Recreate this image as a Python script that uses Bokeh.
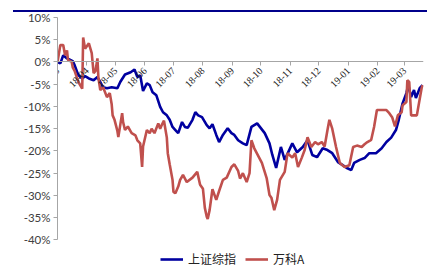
import math
from datetime import datetime
import pandas as pd
from bokeh.plotting import figure
from bokeh.models import (FixedTicker, DatetimeTickFormatter, PrintfTickFormatter,
                          Legend, LegendItem, Range1d, Div, ColumnDataSource)
from bokeh.layouts import column
from bokeh.embed import file_html
from bokeh.resources import INLINE

# 上证综指 (cumulative return, %)
sh_dates = ["2018-03-01", "2018-03-04", "2018-03-07", "2018-03-11", "2018-03-14", "2018-03-17",
            "2018-03-19", "2018-03-23", "2018-03-27", "2018-03-30", "2018-04-03", "2018-04-08",
            "2018-04-12", "2018-04-15", "2018-04-18", "2018-04-22", "2018-04-27", "2018-05-03",
            "2018-05-06", "2018-05-11", "2018-05-17", "2018-05-21", "2018-05-24", "2018-05-27",
            "2018-05-30", "2018-06-03", "2018-06-06", "2018-06-09", "2018-06-13", "2018-06-17",
            "2018-06-20", "2018-06-24", "2018-06-27", "2018-06-30", "2018-07-03", "2018-07-06",
            "2018-07-10", "2018-07-13", "2018-07-16", "2018-07-21", "2018-07-24", "2018-07-27",
            "2018-07-31", "2018-08-05", "2018-08-08", "2018-08-11", "2018-08-15", "2018-08-18",
            "2018-08-22", "2018-08-27", "2018-08-31", "2018-09-03", "2018-09-07", "2018-09-12",
            "2018-09-16", "2018-09-21", "2018-09-27", "2018-10-05", "2018-10-10", "2018-10-13",
            "2018-10-17", "2018-10-22", "2018-10-26", "2018-11-03", "2018-11-08", "2018-11-14",
            "2018-11-19", "2018-11-24", "2018-11-29", "2018-12-05", "2018-12-10", "2018-12-15",
            "2018-12-21", "2018-12-26", "2018-12-31", "2019-01-04", "2019-01-07", "2019-01-13",
            "2019-01-18", "2019-01-23", "2019-01-30", "2019-02-05", "2019-02-10", "2019-02-15",
            "2019-02-20", "2019-02-23", "2019-02-27", "2019-03-03", "2019-03-05", "2019-03-08",
            "2019-03-11", "2019-03-13", "2019-03-17", "2019-03-20"]
sh_values = [0.0, -0.3, 1.5, 0.8, 0.5, 0.2,
             -0.7, -3.0, -3.7, -3.2, -3.7, -4.1,
             -3.4, -4.5, -5.7, -5.9, -5.7, -5.9,
             -4.5, -2.8, -2.3, -1.7, -3.4, -3.0,
             -6.5, -4.8, -5.2, -6.8, -7.5, -10.1,
             -11.3, -12.0, -13.0, -14.6, -15.3, -16.0,
             -13.5, -14.6, -14.8, -13.0, -11.3, -12.0,
             -12.4, -14.2, -14.9, -14.0, -16.4, -18.0,
             -16.4, -14.9, -16.0, -16.4, -17.6, -18.3,
             -18.7, -14.6, -13.8, -16.0, -18.3, -20.9,
             -23.8, -19.1, -22.0, -18.3, -20.3, -19.1,
             -17.6, -20.9, -21.4, -19.4, -19.8, -20.5,
             -22.5, -23.2, -23.9, -24.3, -22.7, -22.0,
             -21.6, -20.5, -20.5, -19.4, -18.0, -17.0,
             -15.3, -13.0, -9.3, -7.0, -5.2, -7.9,
             -6.3, -8.1, -5.9, -5.2]

# 万科A (cumulative return, %)
vk_dates = ["2018-03-01", "2018-03-04", "2018-03-07", "2018-03-09", "2018-03-11", "2018-03-12",
            "2018-03-16", "2018-03-17", "2018-03-19", "2018-03-23", "2018-03-27", "2018-03-28",
            "2018-03-30", "2018-04-03", "2018-04-06", "2018-04-08", "2018-04-10", "2018-04-12",
            "2018-04-13", "2018-04-15", "2018-04-18", "2018-04-22", "2018-04-25", "2018-04-27",
            "2018-04-28", "2018-04-30", "2018-05-03", "2018-05-04", "2018-05-08", "2018-05-09",
            "2018-05-11", "2018-05-14", "2018-05-18", "2018-05-22", "2018-05-24", "2018-05-27",
            "2018-05-29", "2018-05-30", "2018-06-03", "2018-06-06", "2018-06-08", "2018-06-11",
            "2018-06-15", "2018-06-17", "2018-06-19", "2018-06-21", "2018-06-24", "2018-06-25",
            "2018-06-27", "2018-06-30", "2018-07-01", "2018-07-03", "2018-07-06", "2018-07-08",
            "2018-07-11", "2018-07-15", "2018-07-21", "2018-07-26", "2018-07-29", "2018-08-01",
            "2018-08-03", "2018-08-05", "2018-08-06", "2018-08-08", "2018-08-11", "2018-08-15",
            "2018-08-18", "2018-08-22", "2018-08-26", "2018-08-31", "2018-09-03", "2018-09-07",
            "2018-09-09", "2018-09-12", "2018-09-16", "2018-09-19", "2018-09-21", "2018-09-24",
            "2018-10-02", "2018-10-07", "2018-10-10", "2018-10-12", "2018-10-15", "2018-10-18",
            "2018-10-21", "2018-10-26", "2018-10-29", "2018-11-03", "2018-11-06", "2018-11-09",
            "2018-11-13", "2018-11-16", "2018-11-19", "2018-11-23", "2018-11-27", "2018-11-30",
            "2018-12-04", "2018-12-07", "2018-12-10", "2018-12-12", "2018-12-15", "2018-12-19",
            "2018-12-23", "2018-12-28", "2019-01-02", "2019-01-06", "2019-01-10", "2019-01-15",
            "2019-01-18", "2019-01-21", "2019-01-25", "2019-01-28", "2019-01-31", "2019-02-10",
            "2019-02-13", "2019-02-16", "2019-02-19", "2019-02-22", "2019-02-26", "2019-02-27",
            "2019-03-03", "2019-03-04", "2019-03-06", "2019-03-08", "2019-03-11", "2019-03-14",
            "2019-03-19", "2019-03-20"]
vk_values = [0.0, 3.8, 3.8, 1.5, 2.6, 0.5,
             0.0, -1.2, -2.0, -4.5, -6.0, 5.5,
             3.0, 4.2, 2.0, -2.5, -2.0, 0.8,
             -3.5, -6.3, -5.7, -7.9, -7.0, -9.5,
             -12.0, -13.0, -15.5, -16.9, -11.5, -13.5,
             -15.3, -14.5, -16.0, -16.5, -17.6, -18.3,
             -23.6, -19.0, -15.3, -16.0, -15.0, -16.0,
             -13.8, -15.0, -14.0, -13.2, -17.0, -20.5,
             -23.0, -26.5, -29.2, -29.5, -28.0, -26.5,
             -25.4, -27.0, -26.0, -24.7, -27.6, -28.5,
             -32.8, -34.8, -35.3, -33.3, -28.6, -31.0,
             -29.0, -26.5, -26.0, -23.6, -23.0, -24.5,
             -26.2, -25.0, -27.0, -25.0, -17.6, -19.4,
             -22.7, -26.1, -29.9, -30.5, -33.3, -31.0,
             -26.5, -24.7, -20.5, -21.5, -20.5, -23.6,
             -21.5, -19.8, -16.9, -19.1, -18.0, -18.5,
             -18.0, -19.0, -15.3, -13.0, -15.0, -19.1,
             -22.7, -23.6, -23.2, -19.1, -18.8, -19.1,
             -18.5, -18.0, -17.5, -14.6, -10.8, -10.8,
             -11.5, -12.4, -14.5, -12.0, -11.3, -9.7,
             -9.0, -4.1, -4.5, -12.0, -12.0, -12.0,
             -5.9, -5.2]

series_names = ["上证综指", "万科A"]
month_ticks = ["2018-03-01", "2018-04-01", "2018-05-01", "2018-06-01", "2018-07-01",
               "2018-08-01", "2018-09-01", "2018-10-01", "2018-11-01", "2018-12-01",
               "2019-01-01", "2019-02-01", "2019-03-01"]
y_ticks = [10, 5, 0, -5, -10, -15, -20, -25, -30, -35, -40]

BLUE = "#0000A0"
RED = "#C0504D"
GREY = "#A6A6A6"

sh_src = ColumnDataSource(dict(x=pd.to_datetime(sh_dates), y=sh_values))
vk_src = ColumnDataSource(dict(x=pd.to_datetime(vk_dates), y=vk_values))

# frame extends below -40% so the legend can sit inside it; the y axis line stops at -40%
p = figure(width=427, height=263, output_backend="svg", toolbar_location=None,
           x_axis_type="datetime",
           x_range=Range1d(datetime(2018, 3, 1), datetime(2019, 3, 21)),
           y_range=Range1d(-46.2, 10),
           min_border_left=57, min_border_right=4, min_border_top=13, min_border_bottom=0)
p.outline_line_color = None
p.grid.visible = False
p.background_fill_color = "white"
p.border_fill_alpha = 0

r1 = p.line("x", "y", source=sh_src, line_color=BLUE, line_width=2.6)
r2 = p.line("x", "y", source=vk_src, line_color=RED, line_width=2.6)

tick_ms = [pd.Timestamp(t).value / 1e6 for t in month_ticks]
p.xaxis.ticker = FixedTicker(ticks=tick_ms)
fmt = "%y-%m"
p.xaxis.formatter = DatetimeTickFormatter(milliseconds=fmt, seconds=fmt, minsec=fmt, minutes=fmt,
                                          hourmin=fmt, hours=fmt, days=fmt, months=fmt, years=fmt)
p.xaxis.fixed_location = 0
p.xaxis.major_label_orientation = math.pi / 4
p.xaxis.major_label_text_font = "Liberation Serif"
p.xaxis.major_label_text_font_size = "10px"
p.xaxis.major_label_text_color = "#222222"
p.xaxis.major_label_standoff = 3
p.xaxis.axis_line_color = GREY
p.xaxis.major_tick_line_color = GREY
p.xaxis.major_tick_out = 4
p.xaxis.major_tick_in = 0
p.xaxis.minor_tick_line_color = None

p.yaxis.ticker = FixedTicker(ticks=y_ticks)
p.yaxis.bounds = (-40, 10)
p.yaxis.formatter = PrintfTickFormatter(format="%d%%")
p.yaxis.major_label_text_font = "Lato"
p.yaxis.major_label_text_font_size = "11.5px"
p.yaxis.major_label_text_color = "#404040"
p.yaxis.major_label_standoff = 3
p.yaxis.axis_line_color = GREY
p.yaxis.major_tick_line_color = GREY
p.yaxis.major_tick_out = 4
p.yaxis.major_tick_in = 0
p.yaxis.minor_tick_line_color = None

legend = Legend(items=[LegendItem(label=series_names[0], renderers=[r1]),
                       LegendItem(label=series_names[1], renderers=[r2])],
                orientation="horizontal", location=(103, 0),
                glyph_width=23, glyph_height=12, label_standoff=5, spacing=9,
                padding=0, margin=0, border_line_color=None, background_fill_alpha=0,
                label_text_font="Noto Sans CJK SC", label_text_font_size="12px",
                label_text_color="#222222")
p.add_layout(legend)

top_rule = Div(text='<div style="margin-top:2px;width:414px;height:2px;background:#00008B;"></div>',
               width=414, height=4, margin=(0, 0, 0, 13))

layout = column(top_rule, p, spacing=0)
open("out.html", "w").write(file_html(layout, INLINE))
